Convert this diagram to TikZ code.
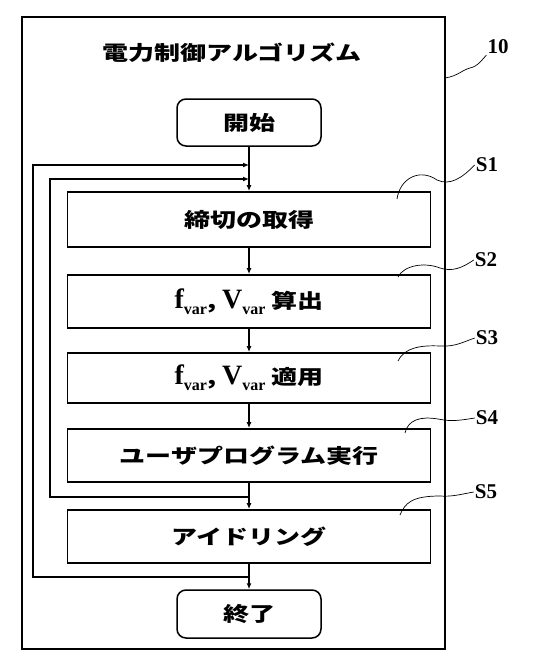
\documentclass[tikz,border=0pt]{standalone}
\usepackage{fontspec}
\setmainfont{Liberation Serif}
\newfontfamily\jp[FakeStretch=1.3]{Noto Sans CJK JP}
\usetikzlibrary{arrows.meta}
\newcommand{\varsym}[1]{{\rmfamily\bfseries\fontsize{28}{28}\selectfont #1\raisebox{-6pt}{\fontsize{16}{16}\selectfont var}}}
\begin{document}
\begin{tikzpicture}[x=1pt,y=-1pt,
  jpfont/.style={font=\jp\bfseries\fontsize{20}{24}\selectfont},
  box/.style={draw, line width=1.8pt, minimum width=363pt, minimum height=53pt, inner sep=0pt, jpfont},
  term/.style={draw, line width=1.5pt, rounded corners=9pt, minimum width=144pt, minimum height=47pt, inner sep=0pt, jpfont},
  flow/.style={line width=1.4pt, -{Latex[length=6pt,width=5pt]}},
  loopline/.style={line width=1.4pt, -{Latex[length=6pt,width=5pt]}},
  leader/.style={line width=0.7pt},
  lab/.style={font=\bfseries\fontsize{21}{24}\selectfont, inner sep=1pt}]
\useasboundingbox (0,0) rectangle (554,651);
\node[draw, line width=2pt, minimum width=423pt, minimum height=632pt, inner sep=0pt] (frame) at (233.5,333) {};
\node[jpfont] (title) at (232,53) {電力制御アルゴリズム};
\node[term] (start) at (249,122.5) {開始};
\node[box, minimum height=55pt] (s1) at (249,219.5) {締切の取得};
\node[box] (s2) at (249,301.5) {\varsym{f}, \varsym{V} 算出};
\node[box, minimum height=50pt] (s3) at (249,378) {\varsym{f}, \varsym{V} 適用};
\node[box] (s4) at (249,455.5) {ユーザプログラム実行};
\node[box] (s5) at (249,536.5) {アイドリング};
\node[term, minimum height=48pt] (end) at (249,614) {終了};
% main flow
\draw[flow] (start) -- (s1);
\draw[flow] (s1) -- (s2);
\draw[flow] (s2) -- (s3);
\draw[flow] (s3) -- (s4);
\draw[flow] (s4) -- (s5);
\draw[flow] (s5) -- (end);
% loops
\coordinate (j1) at (249,165);
\coordinate (j2) at (249,179);
\coordinate (b1) at (249,497);
\coordinate (b2) at (249,577);
\draw[loopline] (b1) -- (50,497) -- (50,179) -- (j2);
\draw[loopline] (b2) -- (33,577) -- (33,165) -- (j1);
% labels
\node[lab] (l10) at (498,47) {10};
\node[lab] (l1) at (487,165) {S1};
\node[lab] (l2) at (486,260) {S2};
\node[lab] (l3) at (487,338) {S3};
\node[lab] (l4) at (487,418) {S4};
\node[lab] (l5) at (486,492) {S5};
% leaders
\coordinate (p10) at (445,78);
\draw[leader] (p10) .. controls (458,76) and (462,70) .. (470,68) .. controls (478,66) and (480,62) .. (l10.south west);
\coordinate (p1) at (397,199);
\draw[leader] (p1) .. controls (400,178) and (420,168) .. (437,180) .. controls (450,186) and (462,178) .. (l1.west);
\coordinate (p2) at (398,277);
\draw[leader] (p2) .. controls (404,265) and (425,262) .. (440,268) .. controls (452,272) and (462,268) .. (l2.west);
\coordinate (p3) at (398,361);
\draw[leader] (p3) .. controls (404,348) and (420,345) .. (440,346) .. controls (455,347) and (463,342) .. (l3.west);
\coordinate (p4) at (405,433);
\draw[leader] (p4) .. controls (408,420) and (420,416) .. (438,419) .. controls (452,422) and (462,420) .. (l4.west);
\coordinate (p5) at (400,515);
\draw[leader] (p5) .. controls (405,503) and (412,496) .. (440,496) .. controls (452,497) and (462,494) .. (l5.west);
\end{tikzpicture}
\end{document}
